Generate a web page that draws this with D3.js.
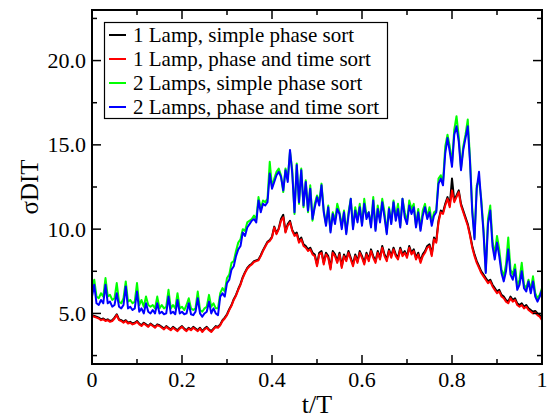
<!DOCTYPE html>
<html>
<head>
<meta charset="utf-8">
<script src="https://cdn.jsdelivr.net/npm/d3@7"></script>
<style>
  html, body { margin: 0; padding: 0; background: #fff; }
  svg { display: block; }
</style>
</head>
<body>
<svg id="chart" width="550" height="419" font-family="'Liberation Serif', 'DejaVu Serif', serif"></svg>
<script>
// Sampling step of the phase grid t/T
const step = 0.005;

// 1 Lamp, simple phase sort
const oneLampSimple = [
  4.90,4.85,4.80,4.75,4.65,4.70,4.60,4.65,4.55,4.60,4.75,4.95,4.65,4.60,4.50,4.60,4.45,4.50,4.40,4.45,
  4.55,4.40,4.30,4.45,4.35,4.25,4.40,4.30,4.20,4.35,4.30,4.20,4.10,4.25,4.15,4.05,4.20,4.10,4.00,4.15,
  4.25,4.10,4.00,4.15,4.05,4.20,4.10,4.00,4.15,3.95,4.10,4.20,4.05,3.95,4.10,4.25,4.20,4.35,4.60,4.75,
  4.95,5.25,5.50,5.85,6.10,6.45,6.75,7.15,7.45,7.70,7.85,7.95,8.10,8.15,8.20,8.45,8.75,9.00,9.25,9.35,
  9.55,10.15,9.75,10.05,10.60,10.85,9.85,10.30,10.50,9.95,9.70,9.80,9.30,9.50,9.10,9.00,8.80,8.90,8.60,8.50,
  7.90,8.60,8.70,8.00,8.60,8.40,7.70,8.70,8.50,8.10,8.60,7.80,8.50,8.20,8.70,8.30,7.90,8.50,8.10,8.70,
  8.40,8.00,8.60,8.20,8.80,8.40,8.10,8.70,8.30,9.00,8.50,8.20,8.80,8.40,8.90,8.50,8.30,8.90,8.50,8.70,
  8.40,9.00,8.60,8.80,8.30,8.60,8.10,8.50,8.70,9.00,9.10,8.50,9.50,9.30,10.50,11.10,11.00,11.50,11.90,11.40,
  13.00,11.70,12.00,12.30,11.50,11.10,10.70,10.30,9.70,9.00,8.50,8.10,7.80,7.50,7.30,7.10,6.90,7.00,6.70,6.50,
  6.30,6.40,6.10,6.00,5.80,5.70,6.00,5.80,5.90,5.60,5.50,5.60,5.40,5.50,5.30,5.20,5.10,5.15,5.00,4.90,
  4.70
];

// 1 Lamp, phase and time sort
const oneLampPhaseTime = [
  4.85,4.80,4.75,4.70,4.60,4.65,4.55,4.60,4.50,4.55,4.70,4.90,4.60,4.55,4.45,4.55,4.40,4.45,4.35,4.40,
  4.50,4.35,4.25,4.40,4.30,4.20,4.35,4.25,4.15,4.30,4.25,4.15,4.05,4.20,4.10,4.00,4.15,4.05,3.95,4.10,
  4.20,4.05,3.95,4.10,4.00,4.15,4.05,3.95,4.10,3.90,4.05,4.15,4.00,3.90,4.05,4.20,4.15,4.30,4.55,4.70,
  4.90,5.20,5.45,5.80,6.05,6.40,6.70,7.10,7.40,7.65,7.80,7.90,8.05,8.10,8.15,8.40,8.70,8.95,9.20,9.30,
  9.50,10.10,9.70,10.00,10.50,10.70,9.80,10.20,10.40,9.90,9.60,9.70,9.20,9.40,9.00,8.90,8.70,8.80,8.50,8.40,
  7.80,8.50,8.60,7.90,8.50,8.30,7.60,8.60,8.40,8.00,8.50,7.70,8.40,8.10,8.60,8.20,7.80,8.40,8.00,8.60,
  8.30,7.90,8.50,8.10,8.70,8.30,8.00,8.60,8.20,8.90,8.40,8.10,8.70,8.30,8.80,8.40,8.20,8.80,8.40,8.60,
  8.30,8.90,8.50,8.70,8.20,8.50,8.00,8.40,8.60,8.90,9.00,8.40,9.40,9.20,10.40,11.00,10.90,11.40,11.80,11.30,
  12.30,11.60,11.90,12.20,11.40,11.00,10.60,10.20,9.60,8.90,8.40,8.00,7.70,7.40,7.20,7.00,6.80,6.90,6.60,6.40,
  6.20,6.30,6.00,5.90,5.70,5.60,5.90,5.70,5.80,5.50,5.40,5.50,5.30,5.40,5.20,5.10,5.00,5.05,4.90,4.80,
  4.60
];

// 2 Lamps, simple phase sort
const twoLampsSimple = [
  6.5,7.0,6.0,5.9,6.2,6.0,7.1,6.0,6.1,5.8,5.9,6.8,5.7,5.6,5.9,6.9,5.7,5.8,5.6,5.7,
  6.8,5.5,5.8,5.4,6.0,5.5,5.4,5.5,5.3,6.0,5.3,5.5,5.3,5.4,6.4,5.3,5.5,5.3,6.2,5.3,
  5.4,5.2,5.5,5.9,5.3,5.2,5.3,6.3,5.2,5.1,5.3,5.4,6.1,5.4,5.6,5.3,5.3,6.2,6.5,6.3,
  7.1,7.3,8.0,8.1,8.7,9.2,9.4,10.0,9.9,10.4,10.5,10.6,10.8,10.6,11.9,11.2,11.7,11.6,11.8,14.0,
  12.5,13.0,13.4,13.6,13.2,12.2,13.6,13.0,14.6,13.5,10.9,13.9,11.5,13.6,11.3,12.9,11.0,12.6,10.5,11.5,
  12.0,11.6,12.7,11.1,10.3,11.4,9.9,11.0,10.5,11.5,11.0,10.2,11.1,9.8,11.0,11.8,10.1,11.3,10.6,11.5,
  10.3,11.8,10.8,11.0,10.2,11.9,10.0,11.4,10.6,11.8,11.0,9.8,11.3,10.4,11.7,10.7,11.5,10.2,11.8,11.0,
  10.4,11.7,11.2,11.5,10.2,11.2,10.0,11.1,11.5,10.7,11.3,10.4,11.0,11.1,13.0,13.2,12.8,14.9,15.6,14.9,
  13.9,15.9,16.7,15.5,13.6,14.9,15.6,16.5,14.2,11.2,9.5,12.6,12.9,11.8,10.0,7.5,10.6,11.4,9.3,8.5,
  9.6,8.8,7.6,7.2,7.9,9.5,7.6,7.3,7.9,6.6,7.0,8.0,6.7,6.5,7.0,6.4,7.2,6.2,5.9,6.1,
  6.5
];

// 2 Lamps, phase and time sort
const twoLampsPhaseTime = [
  6.0,6.7,5.6,5.5,5.8,5.6,6.7,5.6,5.7,5.4,5.5,6.2,5.4,5.3,5.5,6.6,5.3,5.4,5.2,5.3,
  6.3,5.1,5.3,5.0,5.6,5.1,5.0,5.2,5.0,5.6,5.0,5.1,4.95,5.0,6.0,5.0,5.1,4.95,5.8,5.0,
  5.1,4.95,5.0,5.6,4.95,4.9,5.1,5.9,5.0,4.8,5.0,5.1,5.7,5.0,5.3,5.0,4.9,6.0,6.2,6.0,
  6.8,7.0,7.6,7.8,8.4,8.8,9.0,9.8,9.6,10.1,10.3,10.5,10.6,10.4,11.7,11.0,11.5,11.4,11.6,13.3,
  12.4,12.8,13.2,13.4,13.1,12.3,13.5,12.8,14.7,13.3,11.0,13.8,11.6,13.5,11.4,12.8,11.1,12.4,10.6,11.3,
  11.9,11.4,12.6,11.0,10.2,11.3,9.8,10.9,10.3,11.2,10.9,10.0,11.0,9.7,10.8,11.8,10.0,11.1,10.4,11.3,
  10.2,11.5,10.6,11.0,10.1,11.7,9.9,11.2,10.4,11.6,10.7,9.7,11.2,10.3,11.6,10.5,11.2,10.1,11.8,10.7,
  10.3,11.4,10.9,11.3,10.1,11.0,9.9,10.8,11.3,10.6,11.0,10.2,10.8,11.0,12.7,13.0,12.6,14.5,15.4,14.6,
  13.7,15.6,16.1,15.2,13.5,14.7,15.4,16.1,14.0,11.0,9.4,12.4,13.4,11.6,9.8,7.4,10.3,11.1,9.0,8.2,
  9.2,8.4,7.4,6.9,7.5,8.8,7.3,7.0,7.6,6.4,6.7,7.5,6.5,6.3,6.9,6.2,6.9,6.0,5.7,6.0,
  6.4
];

const seriesNames = [
  "1 Lamp, simple phase sort",
  "1 Lamp, phase and time sort",
  "2 Lamps, simple phase sort",
  "2 Lamps, phase and time sort"
];
const seriesColors = ["#000000", "#ff0000", "#00ff00", "#0000ff"];
const seriesValues = [oneLampSimple, oneLampPhaseTime, twoLampsSimple, twoLampsPhaseTime];

const xMajorTicks = [0, 0.2, 0.4, 0.6, 0.8, 1];
const xTickLabels = ["0", "0.2", "0.4", "0.6", "0.8", "1"];
const xMinorTicks = [0.1, 0.3, 0.5, 0.7, 0.9];
const yMajorTicks = [5, 10, 15, 20];
const yTickLabels = ["5.0", "10.0", "15.0", "20.0"];
const yMinorTicks = [2.5, 7.5, 12.5, 17.5, 22.5];

const FONT = "'Liberation Serif', 'DejaVu Serif', serif";
const svg = d3.select("#chart");
const margin = { left: 92, right: 8, top: 10, bottom: 55 };
const W = 550, H = 419;
const x0 = margin.left, x1 = W - margin.right;
const y0 = margin.top, y1 = H - margin.bottom;

const x = d3.scaleLinear().domain([0, 1]).range([x0, x1]);
const y = d3.scaleLinear().domain([2, 23]).range([y1, y0]);

// Data curves
const line = d3.line()
  .x((d, i) => x(i * step))
  .y(d => y(d));

const plot = svg.append("g");
seriesValues.forEach((vals, k) => {
  plot.append("path")
    .datum(vals)
    .attr("fill", "none")
    .attr("stroke", seriesColors[k])
    .attr("stroke-width", 2)
    .attr("stroke-linejoin", "round")
    .attr("d", line);
});

// Inward ticks on all four sides
const majorLen = 9, minorLen = 5;
const tickG = svg.append("g").attr("stroke", "#000").attr("stroke-width", 1.5);
function xTicks(vals, len) {
  vals.forEach(v => {
    tickG.append("line").attr("x1", x(v)).attr("x2", x(v)).attr("y1", y1).attr("y2", y1 - len);
    tickG.append("line").attr("x1", x(v)).attr("x2", x(v)).attr("y1", y0).attr("y2", y0 + len);
  });
}
function yTicks(vals, len) {
  vals.forEach(v => {
    tickG.append("line").attr("y1", y(v)).attr("y2", y(v)).attr("x1", x0).attr("x2", x0 + len);
    tickG.append("line").attr("y1", y(v)).attr("y2", y(v)).attr("x1", x1).attr("x2", x1 - len);
  });
}
xTicks(xMajorTicks, majorLen);
xTicks(xMinorTicks, minorLen);
yTicks(yMajorTicks, majorLen);
yTicks(yMinorTicks, minorLen);

// Frame
svg.append("rect")
  .attr("x", x0).attr("y", y0)
  .attr("width", x1 - x0).attr("height", y1 - y0)
  .attr("fill", "none").attr("stroke", "#000").attr("stroke-width", 2);

// Tick labels
svg.append("g").selectAll("text").data(xMajorTicks).join("text")
  .attr("x", d => x(d)).attr("y", y1 + 23)
  .attr("text-anchor", "middle").attr("font-size", 22)
  .attr("font-family", FONT)
  .text((d, i) => xTickLabels[i]);

svg.append("g").selectAll("text").data(yMajorTicks).join("text")
  .attr("x", x0 - 6).attr("y", d => y(d) + 7.5)
  .attr("text-anchor", "end").attr("font-size", 22)
  .attr("font-family", FONT)
  .text((d, i) => yTickLabels[i]);

// Axis titles
svg.append("text")
  .attr("x", (x0 + x1) / 2).attr("y", 413)
  .attr("text-anchor", "middle").attr("font-size", 26)
  .attr("font-family", FONT)
  .text("t/T");

svg.append("text")
  .attr("transform", `translate(38,${(y0 + y1) / 2}) rotate(-90)`)
  .attr("text-anchor", "middle").attr("font-size", 25)
  .attr("font-family", FONT)
  .text("σDIT");

// Legend
const lg = svg.append("g");
lg.append("rect")
  .attr("x", 104.5).attr("y", 22.5).attr("width", 283).attr("height", 96)
  .attr("fill", "#fff").attr("stroke", "#000").attr("stroke-width", 1.2);
seriesNames.forEach((name, k) => {
  const cy = 35 + k * 24;
  lg.append("line")
    .attr("x1", 109).attr("x2", 126).attr("y1", cy).attr("y2", cy)
    .attr("stroke", seriesColors[k]).attr("stroke-width", 2);
  lg.append("text")
    .attr("x", 133).attr("y", cy + 7)
    .attr("font-size", 21)
    .attr("font-family", FONT)
    .text(name);
});
</script>
</body>
</html>
